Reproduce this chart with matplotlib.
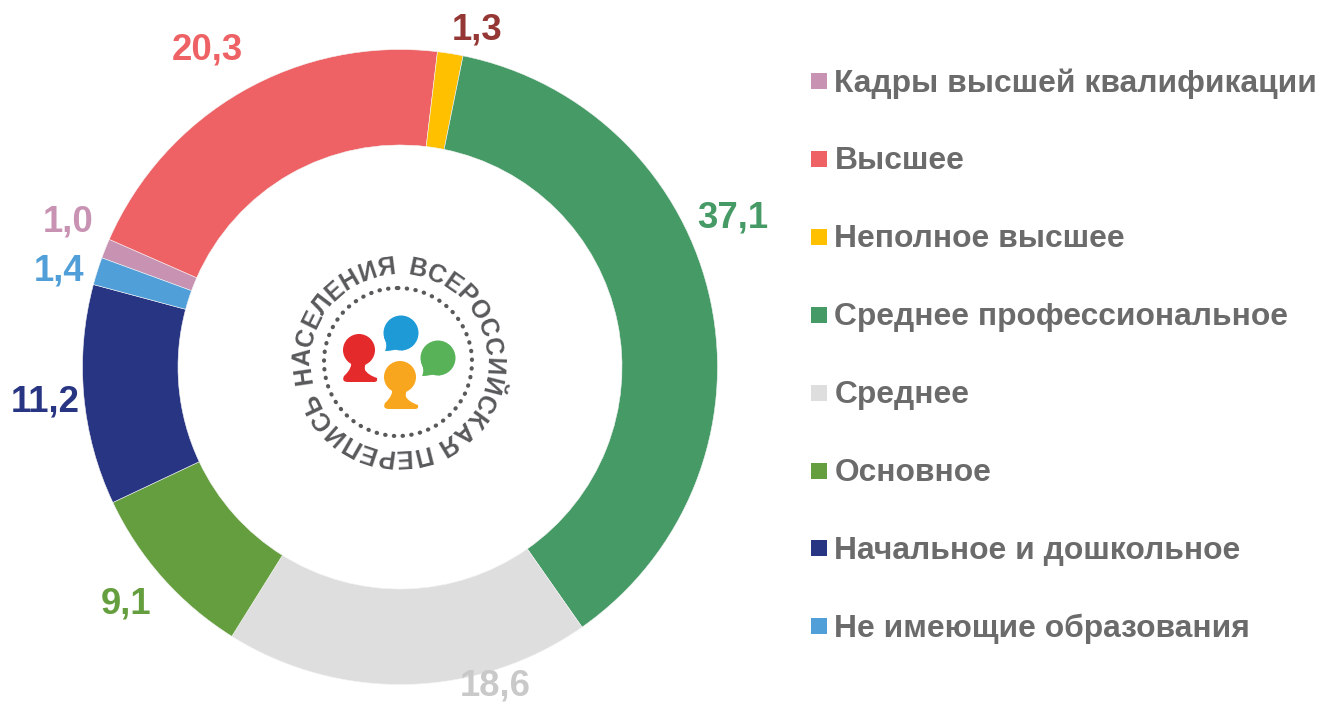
import numpy as np
import matplotlib
matplotlib.use('Agg')
import matplotlib.pyplot as plt
from matplotlib.patches import Circle, Rectangle, PathPatch
from matplotlib.path import Path

categories = ['Кадры высшей квалификации', 'Высшее', 'Неполное высшее', 'Среднее профессиональное',
              'Среднее', 'Основное', 'Начальное и дошкольное', 'Не имеющие образования']
values = [1.0, 20.3, 1.3, 37.1, 18.6, 9.1, 11.2, 1.4]
colors = ['#C893B3', '#EE6164', '#FFC000', '#459A66', '#DEDEDE', '#659E3E', '#283583', '#519FD8']
label_colors = ['#C893B3', '#EE6164', '#953735', '#459A66', '#C9C9C9', '#659E3E', '#283583', '#519FD8']
label_pos = [(68, 222), (207, 50), (477, 30), (733, 218), (495, 686), (126, 604), (45, 402), (59, 271)]
logo_text = 'ВСЕРОССИЙСКАЯ ПЕРЕПИСЬ НАСЕЛЕНИЯ'

plt.rcParams['font.family'] = ['Liberation Sans', 'DejaVu Sans']

W, H = 1321, 704
fig = plt.figure(figsize=(W / 100, H / 100), dpi=100)
ax = fig.add_axes([0, 0, 1, 1])

# y axis is flipped, so axes units are the picture's pixels
ax.pie(values, colors=colors, center=(400, 367), radius=317.5, startangle=200.1,
       counterclock=True, wedgeprops=dict(width=95.5, edgecolor='#f4f4f4', linewidth=0.4))
ax.set_xlim(0, W)
ax.set_ylim(H, 0)

for v, c, (x, y) in zip(values, label_colors, label_pos):
    ax.text(x, y, f'{v:.1f}'.replace('.', ','), color=c, fontsize=26.3, fontweight='bold',
            ha='center', va='center')

# legend
for i, (name, c) in enumerate(zip(categories, colors)):
    y = 81 + i * 77.9
    ax.add_patch(Rectangle((811, y - 8), 16, 16, color=c, lw=0))
    ax.text(834.5, y + 2.5, name, color='#6B6B6B', fontsize=22.9, fontweight='bold', ha='left', va='center')

# logo in the middle
cx, cy = 398, 362
ax.add_patch(Circle((cx, cy), 74, fill=False, ec='#58595B', lw=3, ls=(0, (0.1, 2.0)), capstyle='round'))

M, C3, L, Z = Path.MOVETO, Path.CURVE3, Path.LINETO, Path.CLOSEPOLY


def person(x, y, c):
    ax.add_patch(Circle((x, y), 16, color=c, lw=0))
    pts = [(-8, 10), (-6, 18), (-15, 26), (-18, 32), (-11, 32), (15, 32), (19, 32), (18, 28),
           (9, 25), (6, 20), (5, 15), (8, 10), (-8, 10)]
    codes = [M, C3, C3, C3, L, L, C3, C3, C3, C3, C3, L, Z]
    ax.add_patch(PathPatch(Path([(x + a, y + b) for a, b in pts], codes), fc=c, ec='none'))


def bubble(x, y, c):
    ax.add_patch(Circle((x, y), 17.5, color=c, lw=0))
    pts = [(-17, 4), (-13, 12), (-16, 18), (-8, 18), (-4, 16), (2, 17.5), (4, 10), (-17, 4)]
    codes = [M, C3, C3, C3, C3, L, L, Z]
    ax.add_patch(PathPatch(Path([(x + a, y + b) for a, b in pts], codes), fc=c, ec='none'))


person(359, 350, '#E52A2C')
person(400, 377, '#F9A61F')
bubble(401, 333, '#1E9BD7')
bubble(438, 358, '#57B258')

# ring text, one letter at a time
r = ax.figure.canvas.get_renderer()
widths = []
for ch in logo_text:
    if ch == ' ':
        widths.append(9)
        continue
    t = ax.text(0, 0, ch, fontsize=18, fontweight='bold', fontfamily='Liberation Sans')
    widths.append(t.get_window_extent(r).width + 1)
    t.remove()
rad = 95
total = sum(widths) + 12
pos = 0.0
for ch, w in zip(logo_text, widths):
    ang = np.radians(6 + (pos + w / 2) / total * 360)
    pos += w
    if ch == ' ':
        continue
    ax.text(cx + rad * np.sin(ang), cy - rad * np.cos(ang), ch, fontsize=18, fontweight='bold',
            fontfamily='Liberation Sans', color='#58595B', rotation=-np.degrees(ang),
            rotation_mode='anchor', ha='center', va='center')

fig.savefig('out.png', dpi=100)
